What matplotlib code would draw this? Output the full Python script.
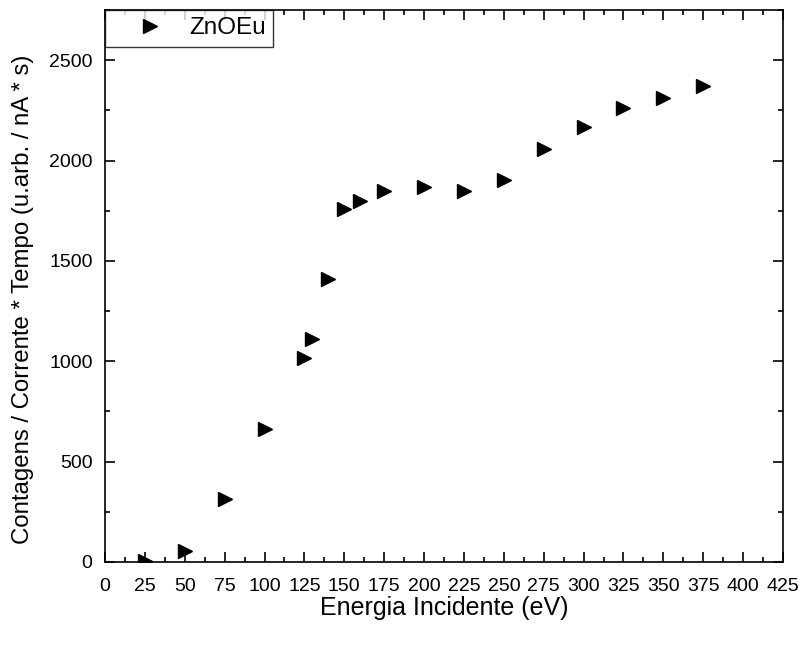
import matplotlib.pyplot as plt
from matplotlib.ticker import MultipleLocator

plt.rcParams['font.family'] = ['Liberation Sans', 'DejaVu Sans']

energy = [25, 50, 75, 100, 125, 130, 140, 150, 160, 175, 200, 225, 250, 275, 300, 325, 350, 375]
counts = [5, 55, 315, 664, 1018, 1113, 1412, 1761, 1796, 1846, 1866, 1846, 1901, 2056, 2166, 2260, 2310, 2370]

fig = plt.figure(figsize=(8.04, 6.45), dpi=100)
ax = fig.add_axes([0.1306, 0.1287, 0.8433, 0.8558])

ax.plot(energy, counts, linestyle='none', marker='>', markersize=10,
        color='black', label='ZnOEu')

ax.set_xlim(0, 425)
ax.set_ylim(0, 2750)
ax.xaxis.set_major_locator(MultipleLocator(25))
ax.xaxis.set_minor_locator(MultipleLocator(12.5))
ax.yaxis.set_major_locator(MultipleLocator(500))
ax.yaxis.set_minor_locator(MultipleLocator(250))
ax.tick_params(which='both', direction='in', top=True, right=True,
               labelsize=14, width=1.2)
ax.tick_params(axis='x', which='both', pad=11.5)
ax.tick_params(axis='y', which='both', pad=9)
ax.tick_params(which='major', length=7)
ax.tick_params(which='minor', length=3.6)
for s in ax.spines.values():
    s.set_linewidth(1.2)

ax.set_xlabel('Energia Incidente (eV)', fontsize=18, labelpad=0.5)
ax.set_ylabel('Contagens / Corrente * Tempo (u.arb. / nA * s)', fontsize=17.3)
ax.yaxis.set_label_coords(-0.104, 0.475)

leg = ax.legend(loc='upper left', fontsize=17.5, frameon=True, fancybox=False,
                edgecolor='black', borderaxespad=0, handletextpad=0.05,
                borderpad=0.3, handlelength=3.1)
leg.get_frame().set_linewidth(1)

fig.savefig('out.png', dpi=100)
